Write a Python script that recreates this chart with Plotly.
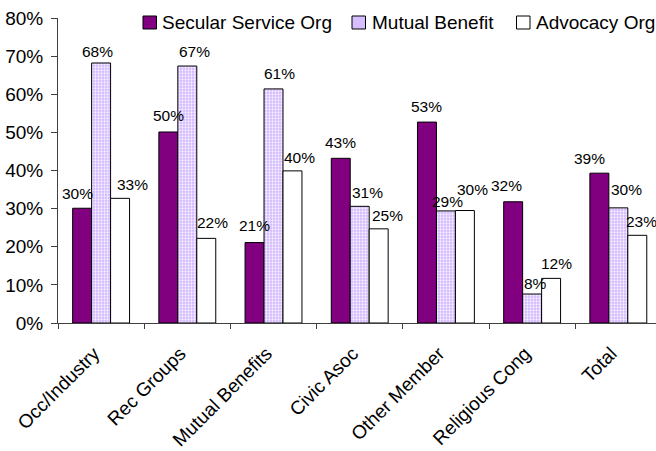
import plotly.graph_objects as go

# Share of each organisation type, by category
categories = ["Occ/Industry", "Rec Groups", "Mutual Benefits", "Civic Asoc",
              "Other Member", "Religious Cong", "Total"]
secular_service = [0.301, 0.501, 0.211, 0.432, 0.527, 0.318, 0.393]
mutual_benefit = [0.682, 0.674, 0.614, 0.306, 0.294, 0.076, 0.302]
advocacy = [0.327, 0.222, 0.399, 0.247, 0.295, 0.117, 0.230]

series_names = ["Secular Service Org", "Mutual Benefit", "Advocacy Org"]
series_values = [secular_service, mutual_benefit, advocacy]

# hand-placed value labels: horizontal nudge and gap above the bar (px)
label_dx = [
    [-5, 0, 0, 0, 0, -7, -10],
    [-4, 7, 5.5, 8, 2, 3, 8.5],
    [12.5, 6.5, 7, 9, 8, 5, 4.5],
]
label_gap = [
    [8.3, 10.3, 10.6, 9.7, 10, 10, 9],
    [5.7, 9, 9.4, 7.7, 3.7, 4.3, 12.7],
    [8.3, 10, 7.4, 7, 15.5, 9, 7.7],
]

FONT = "Liberation Sans, Arial, sans-serif"
fills = ["#800080", "#D6BEFF", "#FFFFFF"]
bar_styles = [
    dict(color=fills[0], line=dict(color="#000000", width=1)),
    dict(color=fills[1], line=dict(color="#000000", width=1),
         pattern=dict(shape=".", fgcolor="#F6F0FF", bgcolor="#D2B6FF",
                      size=3, solidity=0.45, fillmode="replace")),
    dict(color=fills[2], line=dict(color="#000000", width=1)),
]

# canvas and plot area (px)
W, H = 656, 451
ML, MR, MT, MB = 58, 0, 18, 128
PW, PH = W - ML - MR, H - MT - MB
X_RANGE = [-0.5, 6.437]
BARGAP = 0.34
CAT_PX = PW / (X_RANGE[1] - X_RANGE[0])
BAR_PX = CAT_PX * (1 - BARGAP) / len(series_names)
BASELINE_PAD = 4.5  # text baseline above the bottom of an annotation box


def px_x(px):
    return (px - ML) / PW


def px_y(py):
    return (H - MB - py) / PH


fig = go.Figure()
for i, (name, vals) in enumerate(zip(series_names, series_values)):
    fig.add_trace(go.Bar(
        x=categories, y=vals, name=name, marker=bar_styles[i],
        offsetgroup=str(i), hoverinfo="skip", showlegend=False,
    ))

annotations, shapes = [], []
# value labels, drawn above all bars
for i, vals in enumerate(series_values):
    for j, (cat, v) in enumerate(zip(categories, vals)):
        annotations.append(dict(
            text=f"{v:.0%}", xref="x", yref="y", x=cat, y=v,
            xanchor="center", yanchor="bottom", showarrow=False,
            xshift=(i - 1) * BAR_PX + label_dx[i][j],
            yshift=label_gap[i][j] - BASELINE_PAD,
            font=dict(family=FONT, size=15.5, color="#000000"),
        ))

# legend: key squares and labels across the top
legend_keys = [(143, 160), (352, 370), (516.5, 533.5)]
for (kx, tx), name, fill in zip(legend_keys, series_names, fills):
    shapes.append(dict(type="rect", xref="paper", yref="paper",
                       x0=px_x(kx), x1=px_x(kx + 13.5),
                       y0=px_y(29), y1=px_y(16),
                       fillcolor=fill, line=dict(color="#000000", width=1)))
    annotations.append(dict(text=name, xref="paper", yref="paper",
                            x=px_x(tx), y=px_y(22.5), xanchor="left",
                            yanchor="middle", showarrow=False,
                            font=dict(family=FONT, size=19, color="#000000")))

fig.update_layout(
    width=W, height=H,
    margin=dict(l=ML, r=MR, t=MT, b=MB, autoexpand=False),
    paper_bgcolor="#FFFFFF", plot_bgcolor="#FFFFFF",
    font=dict(family=FONT, size=19, color="#000000"),
    barmode="group", bargap=BARGAP, bargroupgap=0,
    showlegend=False,
    shapes=shapes, annotations=annotations,
)
fig.update_xaxes(
    type="category", range=X_RANGE, tickson="boundaries",
    ticks="outside", ticklen=5, tickcolor="#404040",
    showline=True, linecolor="#404040", linewidth=1,
    tickangle=-45, tickfont=dict(size=19),
    ticklabelstandoff=11, ticklabelshift=-7,
    showgrid=False, automargin=False,
)
fig.update_yaxes(
    range=[0, 0.8], dtick=0.1, tickformat=".0%",
    ticks="outside", ticklen=6, tickcolor="#404040",
    showline=True, linecolor="#404040", linewidth=1,
    tickfont=dict(size=19), ticklabelstandoff=4,
    showgrid=False, zeroline=False, automargin=False,
)

fig.write_html("out.html")
